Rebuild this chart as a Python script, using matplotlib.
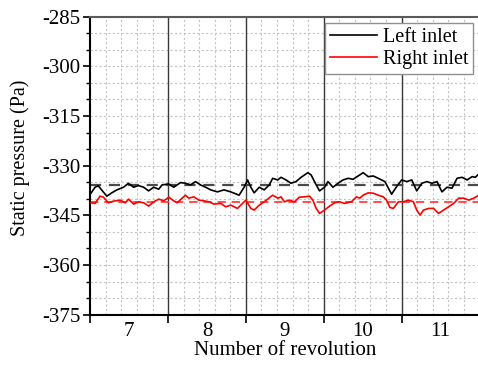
import matplotlib
matplotlib.use("Agg")
import matplotlib.pyplot as plt
import numpy as np

plt.rcParams['font.family'] = ['Liberation Serif', 'DejaVu Serif']
plt.rcParams['axes.unicode_minus'] = False

# Static pressure traces (revolution, Pa)
left_x = [6.509, 6.561, 6.603, 6.712, 6.776, 6.841, 6.926, 6.991, 7.056, 7.120,
          7.185, 7.249, 7.314, 7.379, 7.422, 7.508, 7.572, 7.659, 7.724, 7.788,
          7.853, 7.917, 7.982, 8.047, 8.133, 8.218, 8.305, 8.412, 8.477, 8.521,
          8.563, 8.606, 8.671, 8.735, 8.800, 8.844, 8.908, 8.951, 9.015, 9.080,
          9.144, 9.209, 9.296, 9.338, 9.403, 9.446, 9.510, 9.554, 9.619, 9.683,
          9.748, 9.813, 9.877, 9.942, 10.006, 10.071, 10.136, 10.200, 10.286, 10.372,
          10.437, 10.501, 10.566, 10.631, 10.695, 10.761, 10.825, 10.890, 10.955, 11.019,
          11.084, 11.148, 11.213, 11.278, 11.342, 11.407, 11.448, 11.492]
left_p = [-338.3, -336.5, -336.1, -339.2, -338.2, -337.3, -336.5, -335.3, -336.5, -336.0,
          -336.5, -337.6, -336.5, -337.1, -335.8, -335.5, -336.5, -335.1, -335.3, -335.8,
          -334.8, -335.8, -336.5, -337.3, -337.9, -337.3, -337.9, -338.9, -336.5, -334.3,
          -336.5, -338.2, -336.5, -337.3, -335.8, -333.8, -334.3, -333.5, -334.3, -335.3,
          -334.8, -333.5, -332.1, -332.8, -335.8, -337.6, -336.5, -334.8, -336.5, -335.3,
          -334.3, -333.8, -334.1, -333.1, -332.1, -333.3, -333.1, -333.8, -334.8, -338.6,
          -336.3, -334.3, -334.8, -334.3, -337.6, -335.3, -334.8, -335.3, -334.8, -337.9,
          -336.5, -336.8, -333.8, -333.5, -334.3, -333.3, -333.5, -332.5]

right_x = [6.509, 6.561, 6.625, 6.668, 6.733, 6.797, 6.884, 6.948, 6.993, 7.057,
           7.121, 7.186, 7.251, 7.315, 7.380, 7.444, 7.509, 7.572, 7.616, 7.681,
           7.724, 7.766, 7.831, 7.895, 7.960, 8.025, 8.089, 8.176, 8.240, 8.305,
           8.391, 8.456, 8.499, 8.563, 8.606, 8.671, 8.735, 8.779, 8.844, 8.908,
           8.951, 8.994, 9.058, 9.123, 9.187, 9.252, 9.317, 9.360, 9.403, 9.446,
           9.510, 9.575, 9.640, 9.704, 9.769, 9.855, 9.920, 9.963, 10.006, 10.071,
           10.136, 10.200, 10.265, 10.308, 10.350, 10.394, 10.459, 10.523, 10.588, 10.652,
           10.695, 10.738, 10.782, 10.846, 10.911, 10.975, 11.040, 11.105, 11.169, 11.234,
           11.298, 11.363, 11.428, 11.492]
right_p = [-341.2, -341.4, -339.2, -339.5, -341.2, -340.7, -340.4, -341.2, -340.1, -341.6,
           -340.9, -341.2, -342.2, -340.9, -340.1, -340.6, -339.5, -340.6, -341.2, -339.8,
           -338.9, -339.8, -339.4, -340.4, -340.6, -340.9, -341.6, -341.4, -342.4, -341.9,
           -342.9, -341.4, -340.4, -342.9, -343.4, -341.9, -340.9, -340.1, -338.9, -339.8,
           -339.4, -340.9, -340.4, -340.9, -339.5, -339.4, -339.2, -340.4, -342.9, -344.4,
           -343.4, -342.2, -341.2, -340.9, -341.4, -340.9, -339.4, -339.8, -338.9, -338.2,
           -338.3, -338.9, -339.4, -340.4, -342.6, -342.9, -340.9, -340.9, -340.4, -340.9,
           -343.4, -344.9, -343.4, -342.9, -342.9, -344.4, -343.4, -342.4, -341.4, -339.8,
           -339.8, -340.4, -339.8, -338.9]

# Time-averaged levels
left_mean = -335.8
right_mean = -341.0

# Revolution labels and revolution boundaries
rev_labels = [7, 8, 9, 10, 11]
rev_bounds = [6.5, 7.5, 8.5, 9.5, 10.5, 11.5]

fig = plt.figure(figsize=(4.78, 3.65), dpi=100)
ax = fig.add_axes([0.1889, 0.1378, 0.814, 0.8164])

ax.set_xlim(rev_bounds[0], rev_bounds[-1])
ax.set_ylim(-375, -285)

# grid
ax.set_yticks(np.arange(-375, -284, 15))
ax.set_yticks(np.arange(-375, -284, 5), minor=True)
ax.set_xticks(rev_labels)
ax.set_xticks(np.arange(6.7, 11.5, 0.2), minor=True)
ax.grid(which='minor', axis='x', color='#c4c4c4', linestyle=(0, (2, 2)), linewidth=0.8)
ax.grid(which='both', axis='y', color='#c4c4c4', linestyle=(0, (2, 2)), linewidth=0.8)
ax.set_axisbelow(True)

# revolution boundaries
for b in rev_bounds[1:-1]:
    ax.axvline(b, color='#3a3a3a', linewidth=1.0, zorder=1.5)

ax.plot(left_x, left_p, color='black', linewidth=1.2, label='Left inlet', zorder=3)
ax.plot(right_x, right_p, color='red', linewidth=1.2, label='Right inlet', zorder=3)
ax.axhline(left_mean, color='#4a4a4a', linewidth=1.6, linestyle=(0, (5, 3.5)), zorder=2.5)
ax.axhline(right_mean, color='#ff3030', linewidth=1.2, linestyle=(0, (5, 3.5)), zorder=2.5)

# ticks
ax.tick_params(axis='x', which='major', length=0, labelsize=15, pad=5)
ax.tick_params(axis='x', which='minor', length=0)
ax.tick_params(axis='y', which='major', direction='out', length=5, width=1.2, labelsize=15, pad=2)
ax.tick_params(axis='y', which='minor', direction='out', length=3, width=1.0)

sec = ax.secondary_xaxis('bottom')
sec.set_xticks(rev_bounds)
sec.set_xticklabels([])
sec.tick_params(direction='out', length=6, width=1.2)
sec.spines['bottom'].set_visible(False)

for side in ['left', 'bottom']:
    ax.spines[side].set_linewidth(1.5)
    ax.spines[side].set_color('black')
ax.spines['top'].set_linewidth(1.5)
ax.spines['top'].set_color('#5a5a5a')
ax.spines['right'].set_color('#5a5a5a')

ax.set_xlabel('Number of revolution', fontsize=15, labelpad=0)
ax.set_ylabel('Static pressure (Pa)', fontsize=14.5)
ax.yaxis.set_label_coords(-0.155, 0.527)

leg = ax.legend(loc='upper right', bbox_to_anchor=(0.984, 0.979), fontsize=14.5,
                frameon=True, fancybox=False, handlelength=2.3, handletextpad=0.3,
                borderpad=0.25, labelspacing=0.15, borderaxespad=0.0)
leg.get_frame().set_edgecolor('#909090')
leg.get_frame().set_linewidth(1.0)
leg.get_frame().set_alpha(1.0)

fig.savefig('out.png', dpi=100)
